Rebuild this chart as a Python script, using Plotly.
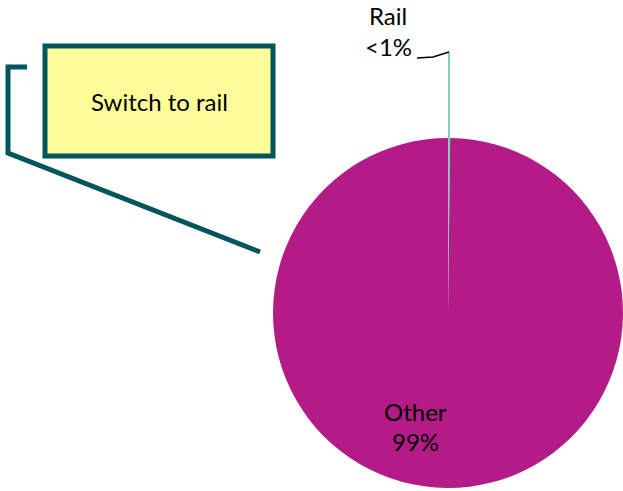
import plotly.graph_objects as go

# Share of journeys by mode
modes = ["Rail", "Other"]
shares = [0.2, 99.8]
share_labels = ["<1%", "99%"]
slice_colors = ["#7FCFC1", "#B31B87"]

W, H = 623, 491
BORDER = "#00565B"


def px(x, y):
    """Convert pixel position (top-left origin) to paper coordinates."""
    return x / W, 1 - y / H


fig = go.Figure()

# Pie occupies a square on the right side of the canvas
x0, y0 = px(273, 488)
x1, y1 = px(623, 138)
fig.add_trace(go.Pie(
    labels=modes,
    values=shares,
    sort=False,
    direction="clockwise",
    rotation=0,
    marker=dict(colors=slice_colors, line=dict(width=0)),
    textinfo="none",
    hoverinfo="label+percent",
    showlegend=False,
    domain=dict(x=[x0, x1], y=[y0, y1]),
))

shapes = []

# Leader line for the Rail slice
lx0, ly0 = px(449, 138)
lx1, ly1 = px(449, 52)
shapes.append(dict(type="line", xref="paper", yref="paper",
                   x0=lx0, y0=ly0, x1=lx1, y1=ly1,
                   line=dict(color=slice_colors[0], width=2)))
path_pts = [px(417, 58), px(433, 57), px(449, 52)]
shapes.append(dict(type="path", xref="paper", yref="paper",
                   path="M {} {} L {} {} L {} {}".format(*[c for p in path_pts for c in p]),
                   line=dict(color="black", width=1.5)))

# Callout box
bx0, by0 = px(45, 156)
bx1, by1 = px(273, 46)
shapes.append(dict(type="rect", xref="paper", yref="paper",
                   x0=bx0, y0=by0, x1=bx1, y1=by1,
                   fillcolor="#FFFC9A", line=dict(color=BORDER, width=5)))

# Bracket connecting the callout to the pie
bracket = [px(27, 67), px(8, 67), px(8, 153), px(260, 252)]
shapes.append(dict(type="path", xref="paper", yref="paper",
                   path="M {} {} L {} {} L {} {} L {} {}".format(*[c for p in bracket for c in p]),
                   line=dict(color=BORDER, width=5)))

annotations = []
font = dict(family="Lato, Open Sans, sans-serif", size=24, color="black")


def label(text, x, y):
    ax, ay = px(x, y)
    annotations.append(dict(text=text, x=ax, y=ay, xref="paper", yref="paper",
                            showarrow=False, xanchor="center", yanchor="middle",
                            font=font))


label(modes[0], 388, 15)
label(share_labels[0], 388, 46)
label(modes[1], 415, 411)
label(share_labels[1], 415, 441)
label("Switch to rail", 159, 102)

fig.update_layout(
    width=W, height=H,
    margin=dict(l=0, r=0, t=0, b=0),
    paper_bgcolor="white",
    plot_bgcolor="white",
    shapes=shapes,
    annotations=annotations,
)

fig.write_html("out.html")
